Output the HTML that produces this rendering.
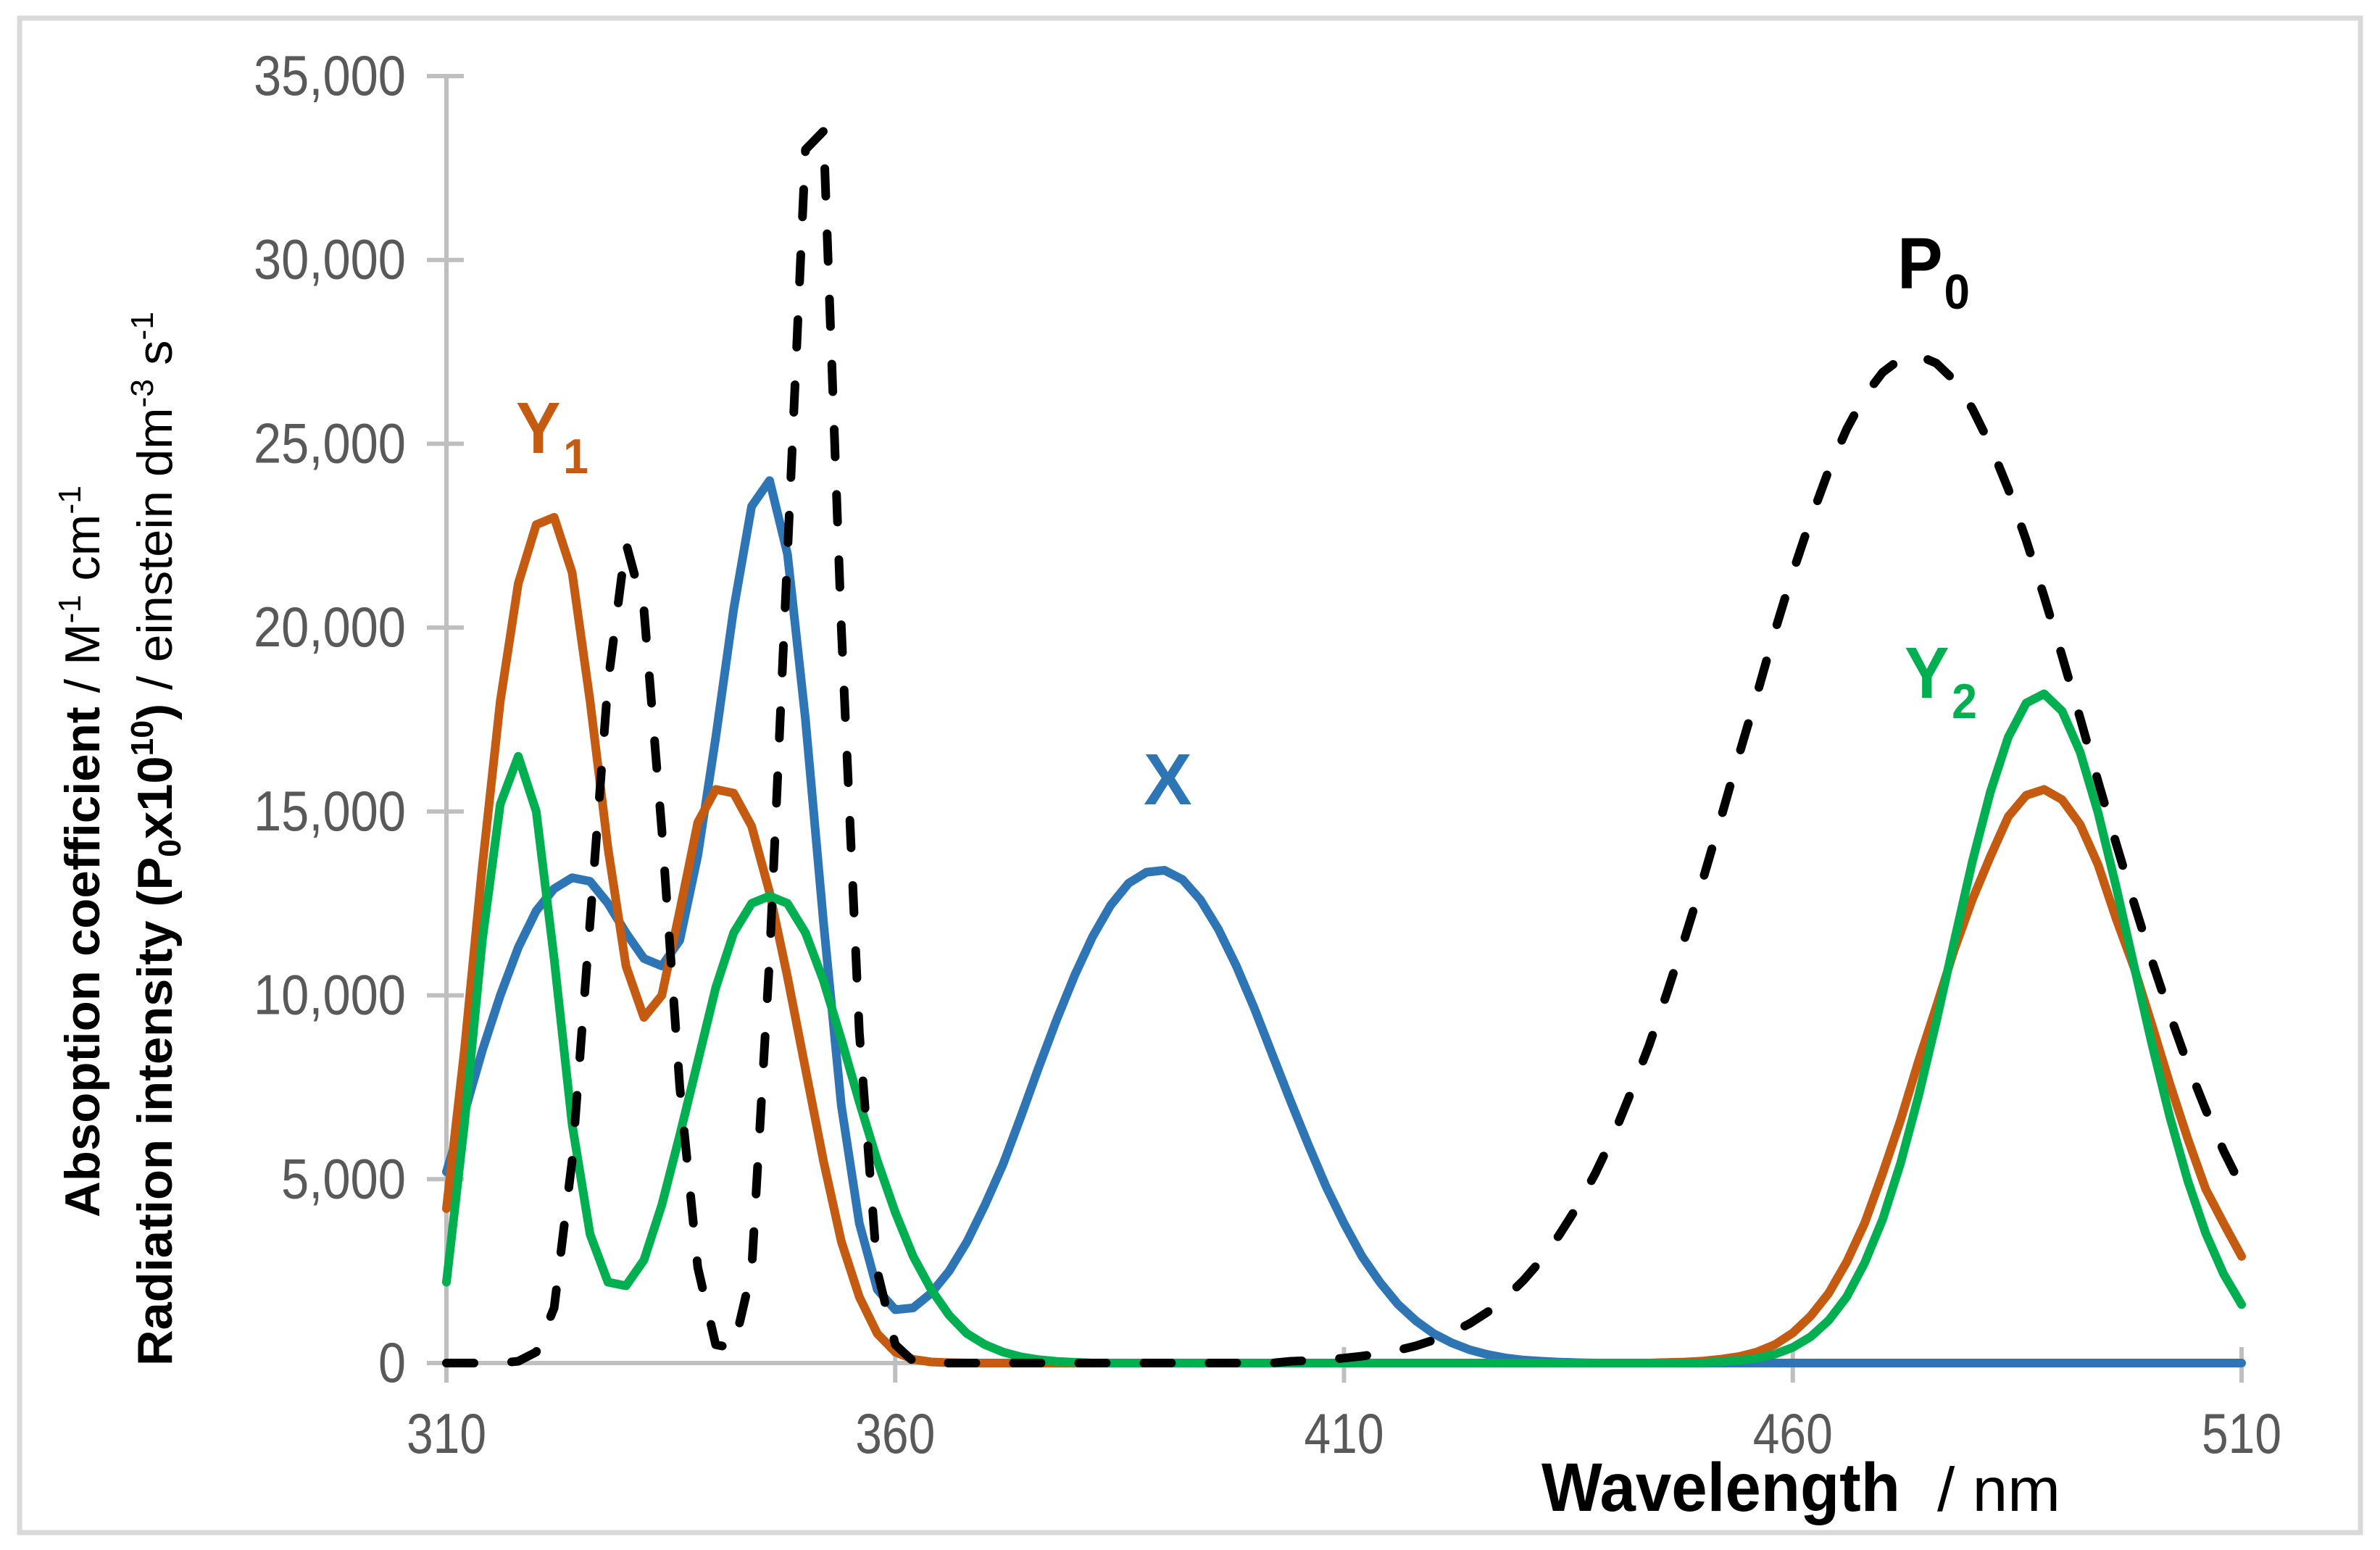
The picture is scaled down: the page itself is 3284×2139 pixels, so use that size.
<!DOCTYPE html>
<html><head><meta charset="utf-8"><style>
html,body{margin:0;padding:0;background:#fff;}
svg{display:block;}
</style></head><body>
<svg id="chart" xmlns="http://www.w3.org/2000/svg" width="3284" height="2139" viewBox="0 0 3284 2139">
<rect x="27" y="25" width="3230" height="2090" fill="#fff" stroke="#D9D9D9" stroke-width="7"/>
<g id="axes"></g>
<g id="series"></g>
<g font-family="'Liberation Sans',sans-serif" font-weight="bold">
<text x="712" y="625" font-size="100" fill="#C55A11" textLength="100" lengthAdjust="spacingAndGlyphs">Y<tspan font-size="68" dx="4" dy="28">1</tspan></text>
<text x="1578" y="1110" font-size="100" fill="#2E75B6">X</text>
<text x="2618" y="398" font-size="100" fill="#000" textLength="100" lengthAdjust="spacingAndGlyphs">P<tspan font-size="68" dx="2" dy="28">0</tspan></text>
<text x="2628" y="963" font-size="100" fill="#00B050" textLength="100" lengthAdjust="spacingAndGlyphs">Y<tspan font-size="68" dx="4" dy="28">2</tspan></text>
</g>
<g font-family="'Liberation Sans',sans-serif">
<text x="2127" y="2085" font-size="95" font-weight="bold" textLength="495" lengthAdjust="spacingAndGlyphs">Wavelength</text>
<text x="2673" y="2085" font-size="85" textLength="170" lengthAdjust="spacingAndGlyphs">/ nm</text>
</g>
<g font-family="'Liberation Sans',sans-serif" font-size="68">
<text transform="translate(137,1680) rotate(-90)" textLength="1010" lengthAdjust="spacingAndGlyphs"><tspan font-weight="bold">Absoption coefficient</tspan>  / M<tspan font-size="44" dy="-26">-1</tspan><tspan dy="26"> cm</tspan><tspan font-size="44" dy="-26">-1</tspan></text>
<text transform="translate(237,1885) rotate(-90)" textLength="1455" lengthAdjust="spacingAndGlyphs"><tspan font-weight="bold">Radiation intensity (P</tspan><tspan font-weight="bold" font-size="44" dy="12">0</tspan><tspan font-weight="bold" dy="-12">x10</tspan><tspan font-weight="bold" font-size="44" dy="-26">10</tspan><tspan font-weight="bold" dy="26">)</tspan> / einstein dm<tspan font-size="44" dy="-26">-3</tspan><tspan dy="26"> s</tspan><tspan font-size="44" dy="-26">-1</tspan></text>
</g>
</svg>
<script>
const wavelengths = [];
for (let w = 310; w <= 510; w += 2) wavelengths.push(w);
const xTicks = [310, 360, 410, 460, 510];
const yTicks = [0, 5000, 10000, 15000, 20000, 25000, 30000, 35000];
const yTickLabels = ["0", "5,000", "10,000", "15,000", "20,000", "25,000", "30,000", "35,000"];
const seriesX = [5200,6800,8500,10000,11300,12300,12900,13200,13100,12500,11700,11000,10800,11500,13800,17000,20500,23300,24000,22000,17500,12000,7000,3800,2000,1450,1500,1900,2500,3300,4300,5400,6700,8050,9350,10550,11600,12450,13050,13350,13400,13150,12600,11800,10800,9650,8400,7150,5950,4800,3800,2900,2200,1600,1150,800,550,360,230,140,80,50,25,10,0,0,0,0,0,0,0,0,0,0,0,0,0,0,0,0,0,0,0,0,0,0,0,0,0,0,0,0,0,0,0,0,0,0,0,0,0];
const seriesY1 = [4200,8500,13500,18000,21200,22800,23000,21500,18000,14000,10800,9400,10000,12300,14700,15600,15500,14600,12800,10500,8000,5500,3300,1800,800,300,100,30,10,0,0,0,0,0,0,0,0,0,0,0,0,0,0,0,0,0,0,0,0,0,0,0,0,0,0,0,0,0,0,0,0,0,0,0,0,0,0,0,15,28,55,105,175,300,500,820,1280,1900,2750,3800,5150,6600,8200,9700,11250,12600,13770,14860,15440,15600,15320,14650,13560,12100,10770,9200,7600,6100,4730,3800,2900];
const seriesY2 = [2200,6500,11500,15200,16500,15000,11000,6500,3500,2200,2100,2800,4300,6200,8200,10200,11700,12500,12700,12500,11700,10400,8800,7100,5500,4100,2900,2000,1300,800,500,300,170,90,45,20,0,0,0,0,0,0,0,0,0,0,0,0,0,0,0,0,0,0,0,0,0,0,0,0,0,0,0,0,0,0,0,0,0,0,0,35,70,130,240,425,715,1160,1800,2720,3900,5430,7250,9300,11490,13630,15520,17020,17950,18200,17730,16620,14980,12980,10820,8680,6700,4960,3530,2420,1590];
const seriesP0 = [0,0,0,0,50,300,1500,5500,12000,18500,22300,20500,14500,7500,2600,500,400,2500,11000,22000,33000,33500,20000,9000,2500,500,50,0,0,0,0,0,0,0,0,0,0,0,0,0,0,0,0,0,0,0,0,47,67,95,134,187,256,346,468,625,825,1075,1390,1775,2250,2810,3490,4260,5160,6180,7380,8650,10080,11580,13160,14830,16530,18180,19900,21500,22950,24280,25400,26300,26940,27310,27400,27190,26720,25960,24970,23770,22380,20850,19230,17550,15830,14150,12520,10950,9490,8120,6890,5770,4790];

const X0 = 616, X1 = 3093, Y0 = 1881, Y1 = 105;
function xs(w){ return X0 + (w - 310) * (X1 - X0) / 200; }
function ys(v){ return Y0 - v * (Y0 - Y1) / 35000; }
const NS = "http://www.w3.org/2000/svg";
const axes = document.getElementById('axes');
const seriesG = document.getElementById('series');
function mk(tag, attrs, parent){ const e = document.createElementNS(NS, tag); for (const k in attrs) e.setAttribute(k, attrs[k]); parent.appendChild(e); return e; }

const yAxis = mk('line', {x1:X0, y1:Y1, x2:X0, y2:Y0+27, stroke:'#BFBFBF', 'stroke-width':6}, axes);


const xAxis = mk('line', {x1:X0-27, y1:Y0, x2:X1, y2:Y0, stroke:'#BFBFBF', 'stroke-width':6}, axes);



yTicks.forEach((v, i) => {
  const t = mk('line', {x1:X0-27, y1:ys(v), x2:X0+24, y2:ys(v), stroke:'#BFBFBF', 'stroke-width':6}, axes);
  
  
  const s = yTickLabels[i];
  const digits = s.replace(/,/g, '').length, commas = s.length - digits;
  const lb = mk('text', {x:560, y:ys(v)+26, 'text-anchor':'end', 'font-size':78, fill:'#595959', 'font-family':"'Liberation Sans',sans-serif", textLength: digits*38 + commas*20, lengthAdjust:'spacingAndGlyphs'}, axes);
  lb.textContent = s;
  
  
});
xTicks.forEach(w => {
  const t = mk('line', {x1:xs(w), y1:Y0-22, x2:xs(w), y2:Y0+27, stroke:'#BFBFBF', 'stroke-width':6}, axes);
  
  
  const lb = mk('text', {x:xs(w), y:2005, 'text-anchor':'middle', 'font-size':78, fill:'#595959', 'font-family':"'Liberation Sans',sans-serif", textLength:110, lengthAdjust:'spacingAndGlyphs'}, axes);
  lb.textContent = String(w);
  
  
});

function drawSeries(vals, color, name, dashed){
  let d = '';
  vals.forEach((v, i) => { d += (i ? 'L' : 'M') + xs(wavelengths[i]).toFixed(1) + ',' + ys(v).toFixed(1); });
  const p = mk('path', {d:d, fill:'none', stroke:color, 'stroke-width':12, 'stroke-linejoin':'round', 'stroke-linecap':'round'}, seriesG);
  if (dashed) p.setAttribute('stroke-dasharray', '38 52');
  
  
}
drawSeries(seriesX, '#2E75B6', 'series-x-line', false);
drawSeries(seriesY1, '#C55A11', 'series-y1-line', false);
drawSeries(seriesY2, '#00B050', 'series-y2-line', false);
drawSeries(seriesP0, '#000000', 'series-p0-dashed-line', true);
</script>
</body></html>
